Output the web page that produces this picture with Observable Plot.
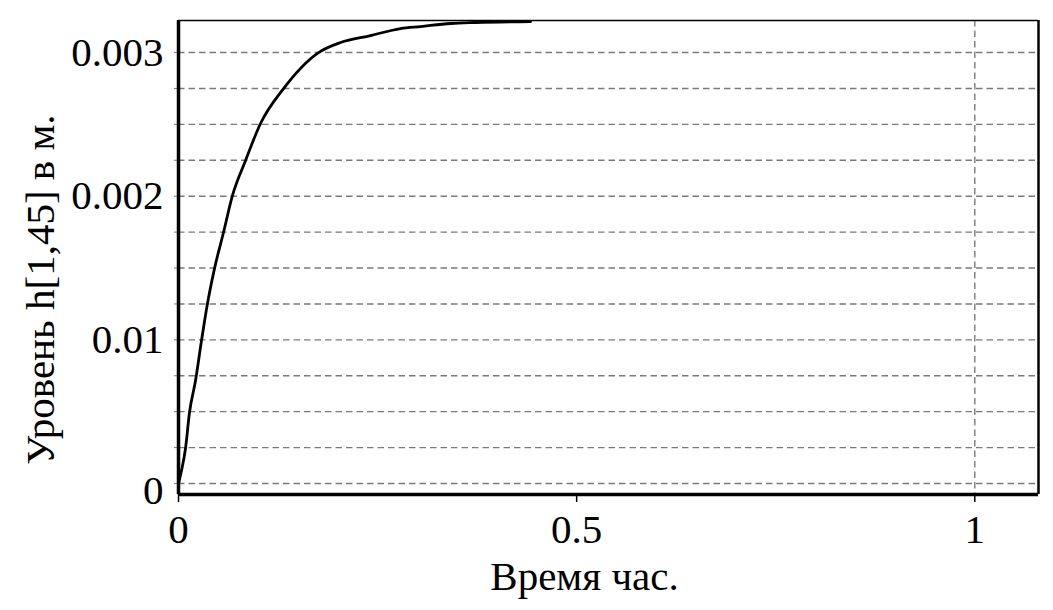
<!DOCTYPE html>
<html>
<head>
<meta charset="utf-8">
<script src="https://cdn.jsdelivr.net/npm/d3@7"></script>
<script src="https://cdn.jsdelivr.net/npm/@observablehq/plot@0.6"></script>
<style>
  html, body { margin: 0; padding: 0; background: #ffffff; }
  #chart svg { display: block; }
</style>
</head>
<body>
<div id="chart"></div>
<script>
// ---- data ----
const timeH  = [0, 0.0038, 0.0088, 0.0138, 0.0214, 0.0289, 0.0364, 0.0452, 0.0565, 0.0678, 0.0842, 0.1030, 0.1319, 0.1759, 0.2035, 0.2412, 0.2789, 0.3040, 0.3417, 0.3731, 0.4422];
const levelM = [0, 0.000090, 0.000244, 0.000494, 0.000717, 0.000995, 0.001253, 0.001496, 0.001747, 0.002005, 0.002248, 0.002506, 0.002749, 0.003000, 0.003070, 0.003118, 0.003167, 0.003181, 0.003202, 0.003209, 0.003216];

const xDomain = [0, 1.08];
const yDomain = [-0.0000766, 0.003223];

const xTicks = [0, 0.5, 1];
const xTickLabels = ["0", "0.5", "1"];
const yTicks = [0, 0.001, 0.002, 0.003];
const yTickLabels = ["0", "0.01", "0.002", "0.003"];
const yGrid = [0, 0.00025, 0.0005, 0.00075, 0.001, 0.00125, 0.0015, 0.00175, 0.002, 0.00225, 0.0025, 0.00275, 0.003];
const xGrid = [1];

const xTitle = "Время час.";
const yTitle = "Уровень h[1,45] в м.";

// ---- build ----
const points = timeH.map((t, i) => ({t, h: levelM[i]}));
const xLab = new Map(xTicks.map((v, i) => [v, xTickLabels[i]]));
const yLab = new Map(yTicks.map((v, i) => [v, yTickLabels[i]]));
const gridColor = "#7a7a7a";
const font = 41;

const chart = Plot.plot({
  width: 1053,
  height: 610,
  marginLeft: 178,
  marginRight: 15,
  marginTop: 20,
  marginBottom: 116,
  style: {fontFamily: "'Liberation Serif', 'Times New Roman', serif", fontSize: font + "px", color: "black", background: "white", overflow: "visible"},
  x: {domain: xDomain},
  y: {domain: yDomain},
  marks: [
    Plot.ruleY(yGrid, {stroke: gridColor, strokeWidth: 1.4, strokeDasharray: "6.5,4"}),
    Plot.ruleX(xGrid, {stroke: gridColor, strokeWidth: 1.4, strokeDasharray: "6.5,4"}),
    Plot.axisY(yGrid, {tickSize: 4, tickFormat: () => "", stroke: gridColor, label: null}),
    Plot.axisY(yTicks.filter(v => v !== 0), {tickSize: 0, tickPadding: 15, tickFormat: d => yLab.get(d), fontSize: font, label: null, fill: "black"}),
    Plot.axisY(yTicks.filter(v => v === 0), {tickSize: 0, tickPadding: 15, dy: 7, tickFormat: d => yLab.get(d), fontSize: font, label: null, fill: "black"}),
    Plot.axisX(xTicks, {tickSize: 8, tickPadding: 11, tickFormat: d => xLab.get(d), fontSize: font, label: null, stroke: "black", strokeWidth: 1.5, fill: "black"}),
    Plot.ruleY([yDomain[1]], {stroke: "black", strokeWidth: 1.6}),
    Plot.ruleX([xDomain[1]], {stroke: "black", strokeWidth: 2.5}),
    Plot.ruleX([xDomain[0]], {stroke: "black", strokeWidth: 3.5}),
    Plot.ruleY([yDomain[0]], {stroke: "black", strokeWidth: 3.5}),
    Plot.line(points, {x: "t", y: "h", stroke: "black", strokeWidth: 2.8, curve: "monotone-x"}),
    Plot.text([xTitle], {frameAnchor: "bottom", textAnchor: "middle", lineAnchor: "middle", dx: -24, dy: 82, fontSize: font, fill: "black"}),
    Plot.text([yTitle], {frameAnchor: "left", textAnchor: "middle", lineAnchor: "middle", rotate: -90, dx: -138, dy: 32, fontSize: font, fill: "black"})
  ]
});
document.getElementById("chart").appendChild(chart);
</script>
</body>
</html>
